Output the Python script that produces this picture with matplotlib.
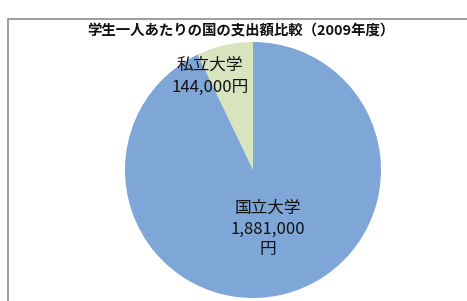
import matplotlib
matplotlib.use("Agg")
import matplotlib.pyplot as plt
from matplotlib.patches import Rectangle

plt.rcParams['font.family'] = ['Noto Sans CJK JP', 'DejaVu Sans']

categories = ['私立大学', '国立大学']
values = [144000, 1881000]
colors = ['#D7E4BD', '#7EA6D6']
title = '学生一人あたりの国の支出額比較（2009年度）'

W, H = 467, 301
fig = plt.figure(figsize=(W / 100, H / 100), dpi=100)

# outer chart border (cut off on right and bottom like the reference)
fig.patches.append(Rectangle((8 / W, -0.1), 1.2, 1 - 19 / H + 0.1, transform=fig.transFigure,
                             fill=False, edgecolor='#8C8C8C', linewidth=1.2))

cx, cy, r = 253, 170, 128
ax = fig.add_axes([(cx - r) / W, (H - cy - r) / H, 2 * r / W, 2 * r / H])
ax.pie(values, colors=colors, startangle=90, counterclock=True, radius=1,
       wedgeprops=dict(linewidth=0))
ax.set_xlim(-1, 1)
ax.set_ylim(-1, 1)
ax.set_aspect('auto')
ax.axis('off')

lab0 = f'{categories[0]}\n{values[0]:,}円'
lab1 = f'{categories[1]}\n{values[1]:,}\n円'
ax.text(-0.336, 0.734, lab0, ha='center', va='center', fontsize=12, linespacing=1.4, color='#111111')
ax.text(0.117, -0.461, lab1, ha='center', va='center', fontsize=12, linespacing=1.3, color='#111111')

fig.text(241 / W, 1 - 31 / H, title, ha='center', va='center', fontsize=10.4,
         fontweight='bold', color='#111111')

fig.savefig('out.png', dpi=100)
